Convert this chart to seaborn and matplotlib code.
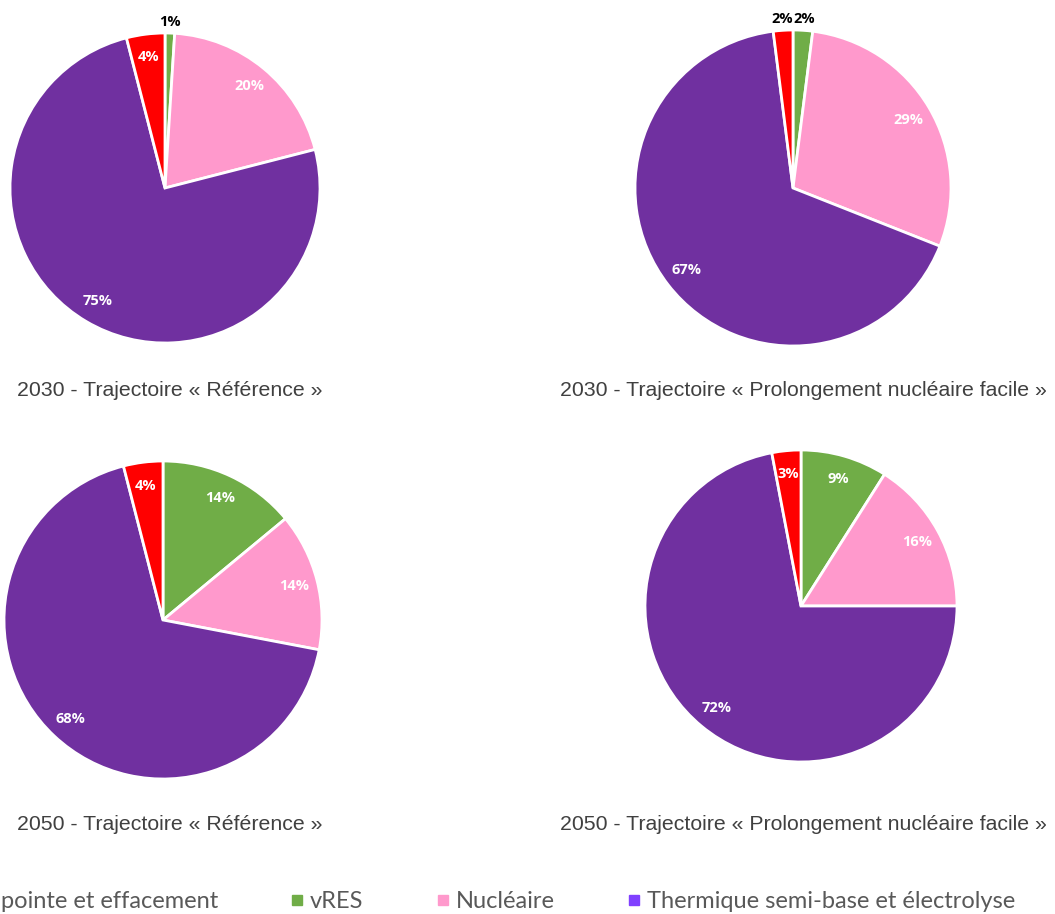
import numpy as np
import matplotlib
matplotlib.use("Agg")
import matplotlib.pyplot as plt
import seaborn as sns
from matplotlib.lines import Line2D

W, H = 1055, 914

categories = ["pointe et effacement", "vRES", "Nucléaire",
              "Thermique semi-base et électrolyse"]

# slice order in the pies: clockwise from 12 o'clock
pie_order = ["vRES", "Nucléaire", "Thermique", "Pointe"]

ref_2030 = [1, 20, 75, 4]
nuc_2030 = [2, 29, 67, 2]
ref_2050 = [14, 14, 68, 4]
nuc_2050 = [9, 16, 72, 3]

titles = [
    "2030 - Trajectoire « Référence »",
    "2030 - Trajectoire « Prolongement nucléaire facile »",
    "2050 - Trajectoire « Référence »",
    "2050 - Trajectoire « Prolongement nucléaire facile »",
]

pie_colors = ["#70AD47", "#FF99CC", "#7030A0", "#FF0000"]
legend_colors = ["#FF0000", "#70AD47", "#FF99CC", "#8040FF"]

sns.set_theme(style="white")
plt.rcParams["font.family"] = ["Liberation Sans", "DejaVu Sans"]

fig = plt.figure(figsize=(W / 100, H / 100), dpi=100)

# pie placement in pixels: centre x, centre y (from top), radius
layout = [
    (165, 188, 155),
    (793, 188, 158),
    (163, 620, 159),
    (801, 606, 156),
]
title_pos = [(170, 391), (803, 391), (170, 825), (803, 825)]


def draw_pie(values, cx, cy, r):
    ax = fig.add_axes([(cx - r) / W, (H - cy - r) / H, 2 * r / W, 2 * r / H])
    wedges, texts, autotexts = ax.pie(
        values, colors=pie_colors, startangle=90, counterclock=False,
        autopct=lambda p: f"{p:.0f}%", pctdistance=0.85,
        wedgeprops=dict(edgecolor="white", linewidth=2),
        textprops=dict(fontsize=10.5, fontweight="bold", color="white",
                       family=["Open Sans", "DejaVu Sans"]),
    )
    # small slices get their label outside, in black
    for v, t in zip(values, autotexts):
        if v <= 2:
            x, y = t.get_position()
            t.set_position((x * 1.3, y * 1.26))
            t.set_color("black")
    ax.set_xlim(-1, 1)
    ax.set_ylim(-1, 1)
    ax.set_aspect("equal")
    ax.axis("off")
    return ax


for vals, (cx, cy, r) in zip([ref_2030, nuc_2030, ref_2050, nuc_2050], layout):
    draw_pie(vals, cx, cy, r)

for t, (x, y) in zip(titles, title_pos):
    fig.text(x / W, 1 - y / H, t, ha="center", va="center",
             fontsize=15.3, color="#404040")

handles = [Line2D([0], [0], marker="s", linestyle="none", markersize=7,
                  markerfacecolor=c, markeredgecolor=c) for c in legend_colors]
fig.legend(handles, categories, loc="center left",
           bbox_to_anchor=(-44 / W, 1 - 902 / H), ncol=4, frameon=False,
           handletextpad=0.1, columnspacing=2.9, handlelength=0.9,
           prop=dict(family=["Lato", "DejaVu Sans"], size=17),
           labelcolor="#595959")

fig.savefig("out.png", dpi=100)
